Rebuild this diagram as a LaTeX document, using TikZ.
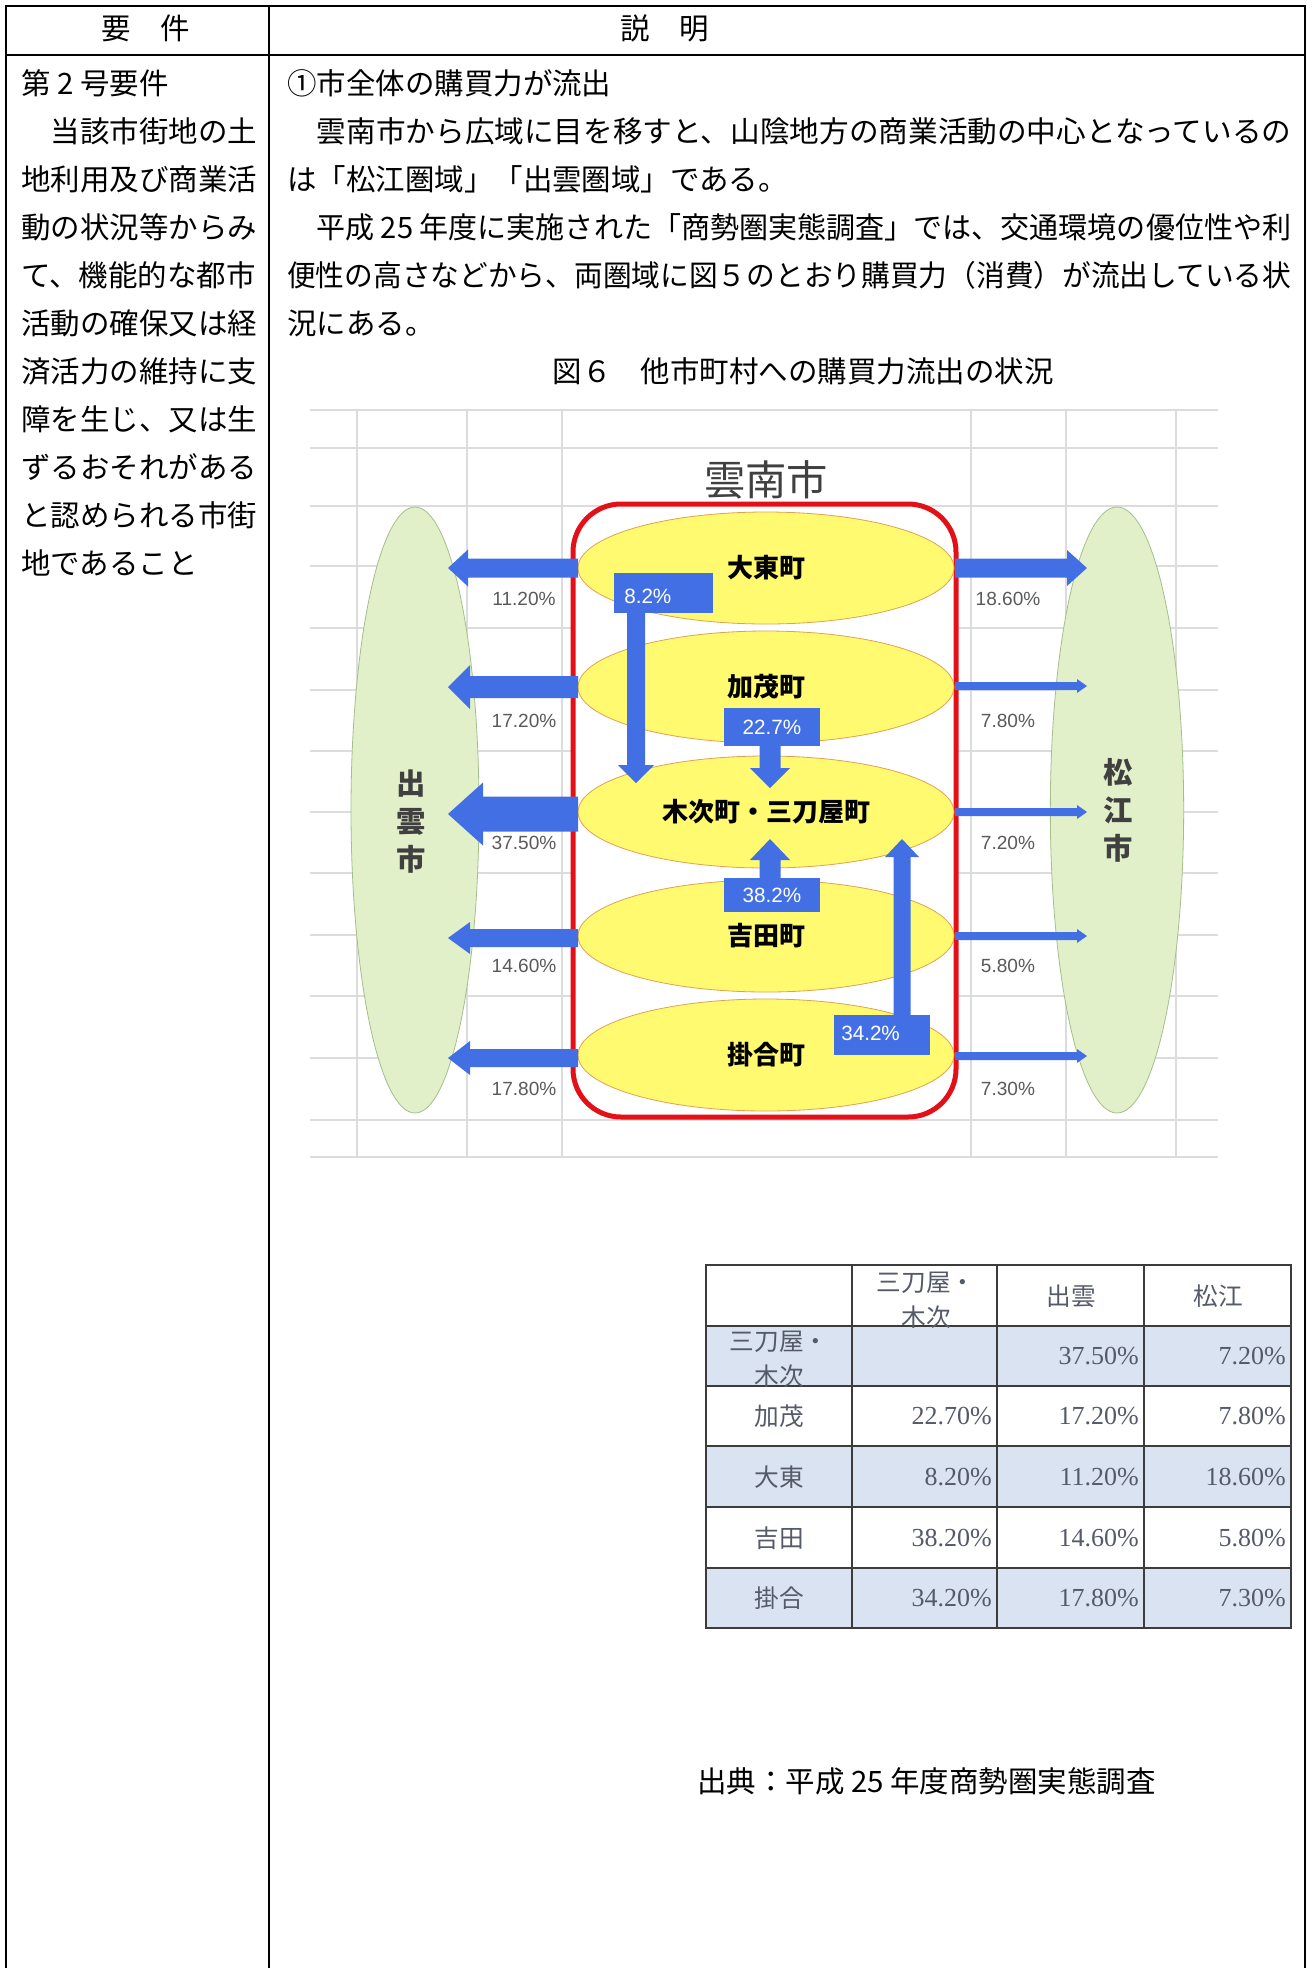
\documentclass[tikz,border=0pt]{standalone}
\usepackage{fontspec}
\usepackage{graphicx}
\usetikzlibrary{shapes.geometric}
\setmainfont{Liberation Serif}
\newfontfamily\jp{Noto Sans CJK JP}
\newfontfamily\arialf{Liberation Sans}
\definecolor{abl}{RGB}{66,112,228}
\definecolor{gridc}{RGB}{220,220,220}
\definecolor{redc}{RGB}{228,16,24}
\definecolor{yel}{RGB}{255,250,112}
\definecolor{yeld}{RGB}{226,160,80}
\definecolor{grn}{RGB}{226,240,202}
\definecolor{grnd}{RGB}{165,190,140}
\definecolor{tblue}{RGB}{218,227,241}
\definecolor{tline}{RGB}{60,60,60}
\definecolor{ttext}{RGB}{85,90,105}
\definecolor{lbl}{RGB}{90,90,90}
\definecolor{ttl}{RGB}{64,64,64}
\newcommand\blockh[6]{% start x, base x, tip x, y, shaft half width, head half height
  \fill[abl] ({#1},{#4-#5}) -- ({#2},{#4-#5}) -- ({#2},{#4-#6}) -- ({#3},{#4}) -- ({#2},{#4+#6}) -- ({#2},{#4+#5}) -- ({#1},{#4+#5}) -- cycle;}
\newcommand\blockv[6]{% start y, base y, tip y, x, shaft half width, head half width
  \fill[abl] ({#4-#5},{#1}) -- ({#4-#5},{#2}) -- ({#4-#6},{#2}) -- ({#4},{#3}) -- ({#4+#6},{#2}) -- ({#4+#5},{#2}) -- ({#4+#5},{#1}) -- cycle;}
\tikzset{
  body/.style={anchor=base west, inner sep=0, font=\jp\fontsize{22.1pt}{26pt}\selectfont},
  bodyc/.style={anchor=base, inner sep=0, font=\jp\fontsize{22.1pt}{26pt}\selectfont},
  frame/.style={line width=2.2pt, black},
  gridl/.style={gridc, line width=1.1pt},
  yellip/.style={ellipse, draw=yeld, line width=0.6pt, fill=yel, minimum width=282pt, minimum height=84pt, inner sep=0, font=\jp\bfseries\fontsize{19.5pt}{22pt}\selectfont},
  gellip/.style={ellipse, draw=grnd, line width=0.6pt, fill=grn, minimum height=454.5pt, inner sep=0},
  pct/.style={inner sep=0, text=lbl, font=\arialf\fontsize{14.3pt}{16pt}\selectfont},
  pbox/.style={fill=abl, inner sep=0},
  pboxt/.style={inner sep=0, text=white, font=\arialf\fontsize{15.5pt}{17pt}\selectfont},
  vname/.style={inner sep=0, align=center, text=ttl, font=\jp\bfseries\fontsize{22pt}{28.5pt}\selectfont},
  tj/.style={inner sep=0, align=center, text=ttext, font=\jp\fontsize{18.5pt}{26pt}\selectfont},
  tv/.style={inner sep=0, anchor=east, text=ttext, font=\fontsize{19.5pt}{22pt}\selectfont},
  tl/.style={tline, line width=1.5pt}
}
\begin{document}
\begin{tikzpicture}[x=0.75pt,y=-0.75pt]
\useasboundingbox (0,0) rectangle (1311,1968);
\fill[white] (0,0) rectangle (1311,1968);
% ---- outer table frame ----
\draw[frame] (6,1968) -- (6,6) -- (1305,6) -- (1305,1968);
\draw[frame] (6,55) -- (1305,55);
\draw[frame] (269,6) -- (269,1968);
\node[bodyc] (h1) at (146,39) {要　件};
\node[bodyc] (h2) at (665,39) {説　明};
% ---- left column ----
\node[body] (l1) at (21,94) {第 2 号要件};
\node[body] (l2) at (21,142) {　当該市街地の土};
\node[body] (l3) at (21,190) {地利用及び商業活};
\node[body] (l4) at (21,238) {動の状況等からみ};
\node[body] (l5) at (21,286) {て、機能的な都市};
\node[body] (l6) at (21,334) {活動の確保又は経};
\node[body] (l7) at (21,382) {済活力の維持に支};
\node[body] (l8) at (21,430) {障を生じ、又は生};
\node[body] (l9) at (21,478) {ずるおそれがある};
\node[body] (l10) at (21,526) {と認められる市街};
\node[body] (l11) at (21,574) {地であること};
% ---- right column ----
\node[body] (r1) at (287,94) {①市全体の購買力が流出};
\node[body] (r2) at (287,142) {\resizebox{753pt}{\height}{　雲南市から広域に目を移すと、山陰地方の商業活動の中心となっているの}};
\node[body] (r3) at (287,190) {は「松江圏域」「出雲圏域」である。};
\node[body] (r4) at (287,238) {\resizebox{753pt}{\height}{　平成 25 年度に実施された「商勢圏実態調査」では、交通環境の優位性や利}};
\node[body] (r5) at (287,286) {\resizebox{753pt}{\height}{便性の高さなどから、両圏域に図５のとおり購買力（消費）が流出している状}};
\node[body] (r6) at (287,334) {況にある。};
\node[bodyc] (fig) at (803,382) {図６　他市町村への購買力流出の状況};
% ---- chart grid ----
\foreach \gy in {410,448,506,566,628,690,751,812,873,935,996,1058,1120,1157}
  \draw[gridl] (310,\gy) -- (1218,\gy);
\foreach \gx in {357,467,562,971,1066,1176}
  \draw[gridl] (\gx,410) -- (\gx,1157);
\node[inner sep=0, text=ttl, font=\jp\fontsize{31pt}{34pt}\selectfont] (ttl) at (766,480) {雲南市};
% green ellipses
\node[gellip, minimum width=96pt] (izumo) at (415,810) {};
\node[gellip, minimum width=100pt] (matsue) at (1117,810) {};
\node[vname] (izumot) at (411,822) {出\\雲\\市};
\node[vname] (matsuet) at (1118,810) {松\\江\\市};
% red frame
\node[draw=redc, line width=3.75pt, fill=white, rounded corners=36pt, minimum width=287.25pt, minimum height=459.75pt, inner sep=0] (unnan) at (764.5,810.5) {};
% yellow ellipses
\node[yellip] (daito) at (766,568) {大東町};
\node[yellip] (kamo) at (766,687) {加茂町};
\node[yellip] (kisuki) at (766,812) {木次町・三刀屋町};
\node[yellip] (yoshida) at (766,936) {吉田町};
\node[yellip] (kakeya) at (766,1055) {掛合町};
% arrows to Izumo (left)
\blockh{578}{468}{448}{568}{9.5}{18.5}
\blockh{578}{470}{448}{687}{11}{22}
\blockh{578}{483}{448}{814}{17.5}{31.5}
\blockh{578}{470}{448}{938}{9}{16}
\blockh{578}{470}{448}{1058}{9}{17}
% arrows to Matsue (right)
\blockh{955}{1067}{1087}{568}{9.5}{18}
\blockh{955}{1077}{1087}{686}{4}{7}
\blockh{955}{1077}{1087}{812}{4}{7}
\blockh{955}{1077}{1087}{936}{4}{7}
\blockh{955}{1077}{1087}{1056}{4}{7}
% internal arrows
\blockv{610}{765}{783}{636}{9}{18}
\blockv{744}{768}{788}{770}{10.5}{20}
\blockv{880}{860}{839}{770}{10.5}{20}
\blockv{1017}{857}{839}{902}{8.5}{17}
\node[pbox, minimum width=74.25pt, minimum height=30pt] (b1) at (663.5,593) {};
\node[pbox, minimum width=72pt, minimum height=28.5pt] (b2) at (772,727) {};
\node[pbox, minimum width=72pt, minimum height=25.5pt] (b3) at (772,895) {};
\node[pbox, minimum width=72pt, minimum height=30pt] (b4) at (882,1035) {};
\node[pboxt, anchor=west] (b1t) at (624,596) {8.2\%};
\node[pboxt] (b2t) at (772,727) {22.7\%};
\node[pboxt] (b3t) at (772,895) {38.2\%};
\node[pboxt, anchor=west] (b4t) at (841,1033) {34.2\%};
% percent labels
\node[pct] (p1) at (524,599) {11.20\%};
\node[pct] (p2) at (524,721) {17.20\%};
\node[pct] (p3) at (524,843) {37.50\%};
\node[pct] (p4) at (524,966) {14.60\%};
\node[pct] (p5) at (524,1089) {17.80\%};
\node[pct] (q1) at (1008,599) {18.60\%};
\node[pct] (q2) at (1008,721) {7.80\%};
\node[pct] (q3) at (1008,843) {7.20\%};
\node[pct] (q4) at (1008,966) {5.80\%};
\node[pct] (q5) at (1008,1089) {7.30\%};
% ---- data table ----
\fill[tblue] (706,1326) rectangle (1291,1386);
\fill[tblue] (706,1446) rectangle (1291,1507);
\fill[tblue] (706,1568) rectangle (1291,1628);
\foreach \ty in {1326,1386,1446,1507,1568} \draw[tl] (706,\ty) -- (1291,\ty);
\foreach \tx in {852,997,1144} \draw[tl] (\tx,1265) -- (\tx,1628);
\draw[tl, line width=1.9pt] (706,1265) rectangle (1291,1628);
\node[tj] (c12) at (926,1300) {三刀屋・\\木次};
\node[tj] (c13) at (1071,1296) {出雲};
\node[tj] (c14) at (1218,1296) {松江};
\node[tj] (c21) at (779,1359) {三刀屋・\\木次};
\node[tj] (c31) at (779,1416) {加茂};
\node[tj] (c41) at (779,1477) {大東};
\node[tj] (c51) at (779,1538) {吉田};
\node[tj] (c61) at (779,1598) {掛合};
\node[tv] (v23) at (1139,1356) {37.50\%};
\node[tv] (v24) at (1286,1356) {7.20\%};
\node[tv] (v32) at (992,1416) {22.70\%};
\node[tv] (v33) at (1139,1416) {17.20\%};
\node[tv] (v34) at (1286,1416) {7.80\%};
\node[tv] (v42) at (992,1477) {8.20\%};
\node[tv] (v43) at (1139,1477) {11.20\%};
\node[tv] (v44) at (1286,1477) {18.60\%};
\node[tv] (v52) at (992,1538) {38.20\%};
\node[tv] (v53) at (1139,1538) {14.60\%};
\node[tv] (v54) at (1286,1538) {5.80\%};
\node[tv] (v62) at (992,1598) {34.20\%};
\node[tv] (v63) at (1139,1598) {17.80\%};
\node[tv] (v64) at (1286,1598) {7.30\%};
% source
\node[body] (src) at (697,1792) {出典：平成 25 年度商勢圏実態調査};
\end{tikzpicture}
\end{document}
